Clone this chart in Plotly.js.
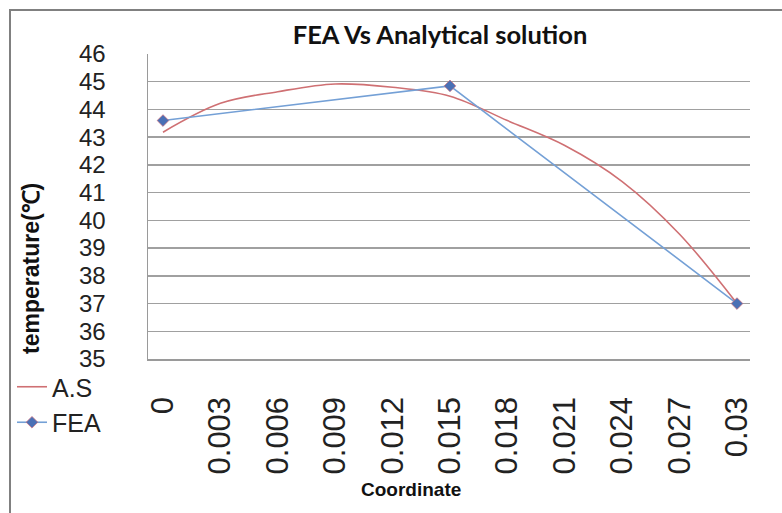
<!DOCTYPE html>
<html>
<head>
<meta charset="utf-8">
<script src="https://cdn.plot.ly/plotly-3.0.1.min.js"></script>
<style>html,body{margin:0;padding:0;background:#fff;}#chart{width:782px;height:513px;}</style>
</head>
<body>
<div id="chart"></div>
<script>
// Analytical solution (A.S) sampled at the category coordinates
const asX = [0, 0.003, 0.006, 0.009, 0.012, 0.015, 0.018, 0.021, 0.024, 0.027, 0.03];
const asY = [43.18, 44.22, 44.64, 44.92, 44.8, 44.48, 43.6, 42.7, 41.4, 39.5, 37.0];
// FEA nodal results
const feaX = [0, 0.015, 0.03];
const feaY = [43.6, 44.85, 37.0];
// Tick labels
const xTickVals = [0, 0.003, 0.006, 0.009, 0.012, 0.015, 0.018, 0.021, 0.024, 0.027, 0.03];
const xTickText = ['0', '0.003', '0.006', '0.009', '0.012', '0.015', '0.018', '0.021', '0.024', '0.027', '0.03'];
const yTickVals = [35, 36, 37, 38, 39, 40, 41, 42, 43, 44, 45, 46];

const W = 782, H = 513;
const L = 148, R = 32, T = 54, B = 154;
const pw = W - L - R, ph = H - T - B;
const px = v => (v - L) / pw;
const py = v => 1 - (v - T) / ph;

const traces = [
  {
    x: asX, y: asY, name: 'A.S', type: 'scatter', mode: 'lines',
    line: {color: '#cf7073', width: 1.6, shape: 'spline', smoothing: 1}
  },
  {
    x: feaX, y: feaY, name: 'FEA', type: 'scatter', mode: 'lines+markers',
    line: {color: '#74a0d6', width: 1.6},
    marker: {symbol: 'diamond', size: 9, color: '#4a70b5', line: {color: 'rgba(210,110,120,0.7)', width: 1}}
  }
];

const layout = {
  width: W, height: H,
  margin: {l: L, r: R, t: T, b: B, pad: 0},
  paper_bgcolor: '#fff', plot_bgcolor: '#fff',
  title: {
    text: 'FEA Vs Analytical solution',
    font: {family: 'Lato, "Liberation Sans", sans-serif', size: 25.5, color: '#111', weight: 'bold'},
    x: 440 / W, xanchor: 'center', y: 1 - 35 / H, yanchor: 'middle'
  },
  xaxis: {
    range: [-0.000784, 0.03068],
    tickmode: 'array', tickvals: xTickVals, ticktext: xTickText,
    tickangle: -90, ticks: '', ticklabelstandoff: 24,
    tickfont: {family: '"Liberation Sans", Arial, sans-serif', size: 31, color: '#222'},
    showgrid: false, zeroline: false,
    showline: true, linecolor: '#9a9a9a', linewidth: 1.5
  },
  yaxis: {
    range: [35, 46],
    tickmode: 'array', tickvals: yTickVals,
    ticks: '', ticklabelstandoff: 36,
    tickfont: {family: '"Liberation Sans", Arial, sans-serif', size: 24, color: '#222'},
    showgrid: true, gridcolor: '#a0a0a0', gridwidth: 1.5,
    zeroline: false, showline: true, linecolor: '#9a9a9a', linewidth: 1.5
  },
  annotations: [
    {text: 'temperature(℃)', xref: 'paper', yref: 'paper', x: px(31), y: py(269),
     xanchor: 'center', yanchor: 'middle', textangle: -90, showarrow: false,
     font: {family: '"Liberation Sans", Arial, sans-serif', size: 23, color: '#111', weight: 'bold'}},
    {text: 'Coordinate', xref: 'paper', yref: 'paper', x: px(411), y: py(489),
     xanchor: 'center', yanchor: 'middle', showarrow: false,
     font: {family: '"Liberation Sans", Arial, sans-serif', size: 19, color: '#111', weight: 'bold'}}
  ],
  showlegend: true,
  legend: {
    x: px(12), y: py(364), xanchor: 'left', yanchor: 'top',
    bgcolor: 'rgba(0,0,0,0)', borderwidth: 0,
    font: {family: '"Liberation Sans", Arial, sans-serif', size: 25, color: '#222'},
    tracegroupgap: 0, itemwidth: 30
  },
  shapes: [
    {type: 'rect', xref: 'paper', yref: 'paper',
     x0: px(10), x1: px(790), y0: py(520), y1: py(10),
     line: {color: '#808080', width: 2}, fillcolor: 'rgba(0,0,0,0)', layer: 'below'}
  ]
};

Plotly.newPlot('chart', traces, layout, {staticPlot: true, displayModeBar: false});
</script>
</body>
</html>
